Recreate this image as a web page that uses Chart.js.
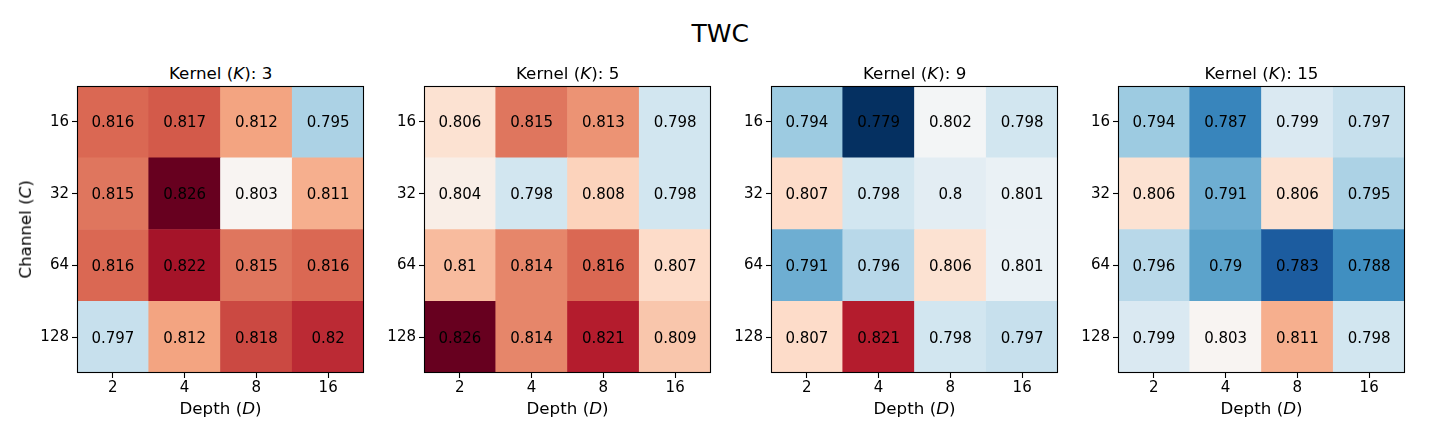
<!DOCTYPE html>
<html>
<head>
<meta charset="utf-8">
<script src="https://cdn.jsdelivr.net/npm/chart.js@4/dist/chart.umd.min.js"></script>
<style>
  html, body { margin: 0; padding: 0; background: #fff; }
  body { width: 1440px; height: 432px; position: relative; overflow: hidden;
         font-family: "DejaVu Sans", sans-serif; color: #000; }
  .box { position: absolute; }
  .txt { position: absolute; white-space: nowrap; line-height: 1; }
</style>
</head>
<body>
<div class="txt" id="suptitle" style="font-size:25px;">TWC</div>

<script>
// --- data ---
const depthLabels = ["2", "4", "8", "16"];
const channelLabels = ["16", "32", "64", "128"]; // top to bottom
const kernelSizes = [3, 5, 9, 15];

// rows = channel (16..128), columns = depth (2..16)
const k3 = [
  [0.816, 0.817, 0.812, 0.795],
  [0.815, 0.826, 0.803, 0.811],
  [0.816, 0.822, 0.815, 0.816],
  [0.797, 0.812, 0.818, 0.82],
];
const k5 = [
  [0.806, 0.815, 0.813, 0.798],
  [0.804, 0.798, 0.808, 0.798],
  [0.81, 0.814, 0.816, 0.807],
  [0.826, 0.814, 0.821, 0.809],
];
const k9 = [
  [0.794, 0.779, 0.802, 0.798],
  [0.807, 0.798, 0.8, 0.801],
  [0.791, 0.796, 0.806, 0.801],
  [0.807, 0.821, 0.798, 0.797],
];
const k15 = [
  [0.794, 0.787, 0.799, 0.797],
  [0.806, 0.791, 0.806, 0.795],
  [0.796, 0.79, 0.783, 0.788],
  [0.799, 0.803, 0.811, 0.798],
];
const grids = [k3, k5, k9, k15];

// --- colour map (RdBu_r, shared norm over all panels) ---
const RDBU_R = [
  [5, 48, 97], [33, 102, 172], [67, 147, 195], [146, 197, 222], [209, 229, 240],
  [247, 247, 247], [253, 219, 199], [244, 165, 130], [214, 96, 77], [178, 24, 43],
  [103, 0, 31],
];
const allVals = grids.flat(2);
const vmin = Math.min(...allVals);
const vmax = Math.max(...allVals);

function cmap(v) {
  let t = (v - vmin) / (vmax - vmin);
  // 256-entry lut like matplotlib
  let idx = Math.min(255, Math.max(0, Math.floor(t * 256)));
  t = idx / 255;
  const pos = t * (RDBU_R.length - 1);
  const i = Math.min(RDBU_R.length - 2, Math.floor(pos));
  const f = pos - i;
  const a = RDBU_R[i], b = RDBU_R[i + 1];
  const c = a.map((x, k) => Math.round(x + (b[k] - x) * f));
  return `rgb(${c[0]},${c[1]},${c[2]})`;
}

// --- layout ---
const FONT = "'DejaVu Sans', sans-serif";
const AREA = 287;        // square plot area
const YAXIS_W = 60;
const XAXIS_H = 30;
const PAD_TOP = 2, PAD_RIGHT = 2;
const AREA_TOP = 86;
const panelLefts = [77, 424, 771, 1118];

function placeText(html, size, cx, baseline, rotate) {
  const el = document.createElement("div");
  el.className = "txt";
  el.style.fontSize = size + "px";
  el.innerHTML = html;
  document.body.appendChild(el);
  const w = el.offsetWidth;
  if (rotate) {
    // rotated -90deg, baseline is a vertical line at x = baseline
    const cxBox = baseline - 0.846 * size + size / 2;
    el.style.left = (cxBox - w / 2) + "px";
    el.style.top = (cx - size / 2) + "px";
    el.style.transform = "rotate(-90deg)";
  } else {
    el.style.left = (cx - w / 2) + "px";
    el.style.top = (baseline - 0.846 * size) + "px";
  }
  return el;
}

const cellText = {
  id: "cellText",
  afterDatasetsDraw(chart) {
    const ctx = chart.ctx;
    ctx.save();
    ctx.font = `15px ${FONT}`;
    ctx.fillStyle = "#000";
    ctx.textAlign = "center";
    ctx.textBaseline = "alphabetic";
    chart.data.datasets.forEach((ds, di) => {
      chart.getDatasetMeta(di).data.forEach((bar, ci) => {
        const cy = (bar.y + bar.base) / 2;
        ctx.fillText(String(ds.values[ci]), bar.x, cy + 0.729 * 15 / 2);
      });
    });
    ctx.restore();
  },
};

const frame = {
  id: "frame",
  afterDraw(chart) {
    const a = chart.chartArea;
    const ctx = chart.ctx;
    ctx.save();
    ctx.strokeStyle = "#000";
    ctx.lineWidth = 1.1;
    ctx.strokeRect(Math.round(a.left) + 0.5, Math.round(a.top) + 0.5,
      Math.round(a.right - a.left) - 1, Math.round(a.bottom - a.top) - 1);
    ctx.restore();
  },
};

function makePanel(p) {
  const grid = grids[p];
  const left = panelLefts[p];
  const box = document.createElement("div");
  box.className = "box";
  box.style.left = (left - YAXIS_W) + "px";
  box.style.top = (AREA_TOP - PAD_TOP) + "px";
  box.style.width = (YAXIS_W + AREA + PAD_RIGHT) + "px";
  box.style.height = (PAD_TOP + AREA + XAXIS_H) + "px";
  const canvas = document.createElement("canvas");
  box.appendChild(canvas);
  document.body.appendChild(box);

  // dataset 0 is the bottom row (channel 128)
  const datasets = [];
  for (let d = 0; d < channelLabels.length; d++) {
    const row = grid[channelLabels.length - 1 - d];
    datasets.push({
      label: channelLabels[channelLabels.length - 1 - d],
      data: row.map(() => 1),
      values: row,
      backgroundColor: row.map(cmap),
      borderWidth: 0,
      barPercentage: 1,
      categoryPercentage: 1,
    });
  }

  const tickFont = { family: FONT, size: 15 };
  const tickGrid = {
    display: true, drawOnChartArea: false, drawTicks: true,
    tickLength: 5, tickWidth: 1.1, color: "#000", offset: false,
  };

  new Chart(canvas, {
    type: "bar",
    data: { labels: depthLabels, datasets },
    options: {
      responsive: true,
      maintainAspectRatio: false,
      animation: false,
      events: [],
      layout: { padding: { top: PAD_TOP, right: PAD_RIGHT, left: 0, bottom: 0 } },
      plugins: { legend: { display: false }, tooltip: { enabled: false } },
      scales: {
        x: {
          type: "category",
          stacked: true,
          offset: true,
          grid: tickGrid,
          border: { display: false },
          ticks: { color: "#000", font: tickFont, padding: 1, maxRotation: 0, autoSkip: false },
          afterFit: (axis) => { axis.height = XAXIS_H; axis.paddingLeft = 0; axis.paddingRight = 0; },
        },
        y: {
          type: "linear",
          stacked: true,
          min: 0,
          max: channelLabels.length,
          grid: tickGrid,
          border: { display: false },
          afterBuildTicks: (axis) => {
            axis.ticks = channelLabels.map((_, i) => ({ value: i + 0.5 }));
          },
          ticks: {
            color: "#000", font: tickFont, padding: 3, autoSkip: false,
            callback: (v) => channelLabels[channelLabels.length - 1 - Math.floor(v)],
          },
          afterFit: (axis) => { axis.width = YAXIS_W; axis.paddingTop = 0; axis.paddingBottom = 0; },
        },
      },
    },
    plugins: [cellText, frame],
  });

  const cx = left + AREA / 2;
  placeText(`Kernel (<i>K</i>): ${kernelSizes[p]}`, 16.7, cx, 79.5);
  placeText(`Depth (<i>D</i>)`, 16.7, cx, 414.5);
  if (p === 0) placeText(`Channel (<i>C</i>)`, 16.7, AREA_TOP + AREA / 2, 31.2, true);
}

for (let p = 0; p < grids.length; p++) makePanel(p);

// suptitle
const st = document.getElementById("suptitle");
st.style.left = (720 - st.offsetWidth / 2) + "px";
st.style.top = (42 - 0.846 * 25) + "px";
</script>
</body>
</html>
